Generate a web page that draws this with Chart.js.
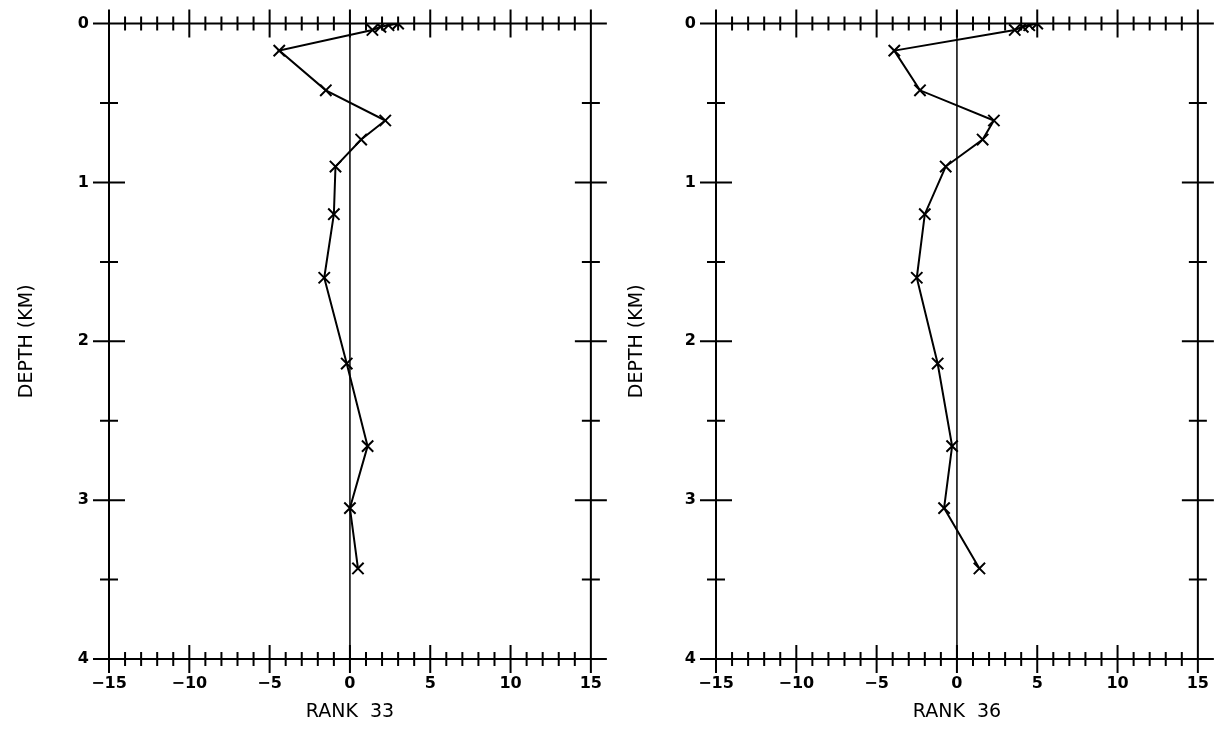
<!DOCTYPE html>
<html>
<head>
<title>Rank vs depth</title>
<script src="https://cdn.jsdelivr.net/npm/chart.js"></script>
<style>
  body { margin: 0; background: #fff; overflow: hidden; }
  .panel { position: absolute; top: -6px; height: 752px; }
</style>
</head>
<body>
<div class="panel" style="left:0; width:617px"><canvas id="rank33"></canvas></div>
<div class="panel" style="left:610px; width:614px"><canvas id="rank36"></canvas></div>

<script>
// depth of each sample (km) and the rank value at that depth
const depthKm = [0.00, 0.01, 0.02, 0.04, 0.17, 0.42, 0.61, 0.73, 0.90, 1.20, 1.60, 2.14, 2.66, 3.05, 3.43];
const rank33 = [3.0, 2.4, 1.9, 1.4, -4.4, -1.5, 2.2, 0.7, -0.9, -1.0, -1.6, -0.2, 1.1, 0.0, 0.5];
const rank36 = [5.0, 4.5, 4.1, 3.6, -3.9, -2.3, 2.3, 1.6, -0.7, -2.0, -2.5, -1.2, -0.3, -0.8, 1.4];

const xTicks = [-15, -10, -5, 0, 5, 10, 15];
const yTicks = [0, 1, 2, 3, 4];

const FONT = 'DejaVu Sans';

// frame with ticks that cross the border lines, like a pen plotter
const frameTicks = {
  id: 'frameTicks',
  afterDatasetsDraw(chart) {
    const { ctx, chartArea: a, scales: { x, y } } = chart;
    ctx.save();
    ctx.strokeStyle = '#000';
    ctx.lineCap = 'butt';

    // zero line
    ctx.lineWidth = 1.5;
    ctx.beginPath();
    ctx.moveTo(x.getPixelForValue(0), a.top);
    ctx.lineTo(x.getPixelForValue(0), a.bottom);
    ctx.stroke();

    ctx.lineWidth = 2;
    ctx.beginPath();
    // top and bottom lines run a little past the frame
    ctx.moveTo(a.left - 12, a.top); ctx.lineTo(a.right + 12, a.top);
    ctx.moveTo(a.left - 12, a.bottom); ctx.lineTo(a.right + 12, a.bottom);
    ctx.moveTo(a.left, a.top); ctx.lineTo(a.left, a.bottom);
    ctx.moveTo(a.right, a.top); ctx.lineTo(a.right, a.bottom);

    for (let v = -15; v <= 15; v++) {
      const px = x.getPixelForValue(v);
      const len = v % 5 === 0 ? 14 : 7;
      [a.top, a.bottom].forEach(py => {
        ctx.moveTo(px, py - len); ctx.lineTo(px, py + len);
      });
    }
    for (let d = 0; d <= 4; d += 0.5) {
      const py = y.getPixelForValue(d);
      const len = Number.isInteger(d) ? 16 : 9;
      [a.left, a.right].forEach(px => {
        ctx.moveTo(px - len, py); ctx.lineTo(px + len, py);
      });
    }
    ctx.stroke();
    ctx.restore();
  }
};

function makePanel(id, values, title, axisWidth) {
  const points = depthKm.map((d, i) => ({ x: values[i], y: d }));
  return new Chart(document.getElementById(id), {
    type: 'scatter',
    data: {
      datasets: [{
        data: points,
        showLine: true,
        borderColor: '#000',
        borderWidth: 2,
        pointStyle: 'crossRot',
        pointRadius: 8,
        pointBorderWidth: 2,
        pointBorderColor: '#000'
      }]
    },
    options: {
      responsive: true,
      maintainAspectRatio: false,
      animation: false,
      layout: { padding: { top: 16, right: 13, left: 0, bottom: 0 } },
      plugins: { legend: { display: false }, tooltip: { enabled: false } },
      scales: {
        x: {
          type: 'linear',
          min: -15, max: 15,
          afterBuildTicks: s => { s.ticks = xTicks.map(v => ({ value: v })); },
          afterFit: s => { s.height = 87; },
          grid: { display: false, drawTicks: false },
          border: { display: false },
          ticks: {
            padding: 15,
            color: '#000',
            font: { family: FONT, size: 16, weight: 'bold' },
            callback: v => (v < 0 ? '\u2212' + Math.abs(v) : String(v))
          },
          title: {
            display: true,
            text: title,
            color: '#000',
            padding: { bottom: 23 },
            font: { family: FONT, size: 19 }
          }
        },
        y: {
          type: 'linear',
          reverse: true,
          min: 0, max: 4,
          afterBuildTicks: s => { s.ticks = yTicks.map(v => ({ value: v })); },
          afterFit: s => { s.width = axisWidth; },
          grid: { display: false, drawTicks: false },
          border: { display: false },
          ticks: {
            padding: 20,
            color: '#000',
            font: { family: FONT, size: 16, weight: 'bold' }
          },
          title: {
            display: true,
            text: 'DEPTH (KM)',
            color: '#000',
            padding: { top: 16 },
            font: { family: FONT, size: 19 }
          }
        }
      }
    },
    plugins: [frameTicks]
  });
}

makePanel('rank33', rank33, 'RANK  33', 109);
makePanel('rank36', rank36, 'RANK  36', 106);
</script>
</body>
</html>
